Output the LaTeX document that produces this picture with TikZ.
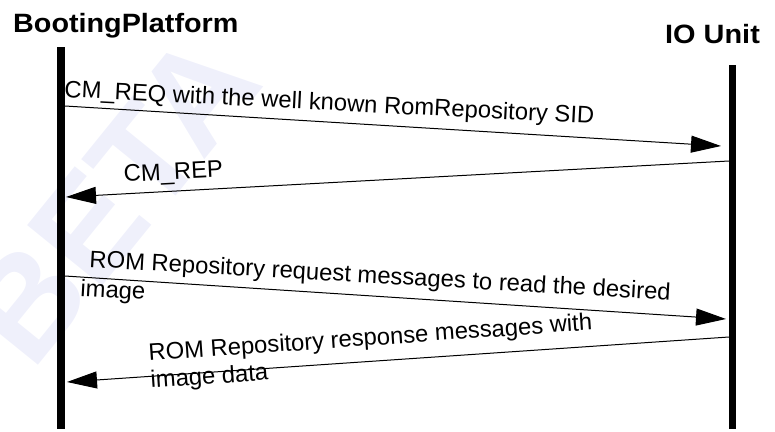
\documentclass[tikz,border=0pt]{standalone}
\usepackage{fontspec}
\setmainfont{Liberation Sans}
\usetikzlibrary{arrows.meta,calc}
\definecolor{wm}{RGB}{239,240,251}
\tikzset{
  life/.style={line width=7.5pt},
  msg/.style={line width=1pt,-{Triangle[length=30pt,width=17pt]}},
  lbl/.style={inner sep=0pt,anchor=base west,font=\fontsize{23.8}{28}\selectfont},
  ttl/.style={inner sep=0pt,anchor=base west,font=\bfseries\fontsize{26.5}{30}\selectfont},
}
\begin{document}
\begin{tikzpicture}[x=1pt,y=-1pt]
\useasboundingbox (0,0) rectangle (775,431);
\begin{scope}
  \clip (0,0) rectangle (775,431);
  \node[rotate=51, font=\bfseries\fontsize{140}{140}\selectfont, text=wm, inner sep=0pt] (wm) at (112,198) {BETA};
\end{scope}
% titles
\node[ttl] (bp) at (13,32) {\scalebox{1.085}[1]{BootingPlatform}};
\node[ttl] (io) at (665,43) {\scalebox{1.09}[1]{IO Unit}};
% lifelines
\coordinate (Lt) at (61,47);
\coordinate (Lb) at (61,429);
\coordinate (Rt) at (732.5,65);
\coordinate (Rb) at (732.5,429);
\draw[life] (Lt) -- (Lb);
\draw[life] (Rt) -- (Rb);
% message end points
\coordinate (m1s) at (65,106);
\coordinate (m1e) at (721,146);
\coordinate (m2s) at (729,161);
\coordinate (m2e) at (66,197);
\coordinate (m3s) at (65,276);
\coordinate (m3e) at (726,319);
\coordinate (m4s) at (729,337);
\coordinate (m4e) at (67,382);
\draw[msg] (m1s) -- (m1e);
\draw[msg] (m2s) -- (m2e);
\draw[msg] (m3s) -- (m3e);
\draw[msg] (m4s) -- (m4e);
% labels
\node[lbl, rotate=-2.9] (t1) at (64,97) {CM\_REQ with the well known RomRepository SID};
\node[lbl, rotate=2.9] (t2) at (124,182) {CM\_REP};
\node[lbl, rotate=-3.25] (t3a) at (89,267) {ROM Repository request messages to read the desired};
\node[lbl, rotate=-3.25] (t3b) at (80,296) {image};
\node[lbl, rotate=4.0] (t4a) at (149,361) {ROM Repository response messages with};
\node[lbl, rotate=4.0] (t4b) at (151,388) {image data};
\end{tikzpicture}
\end{document}
